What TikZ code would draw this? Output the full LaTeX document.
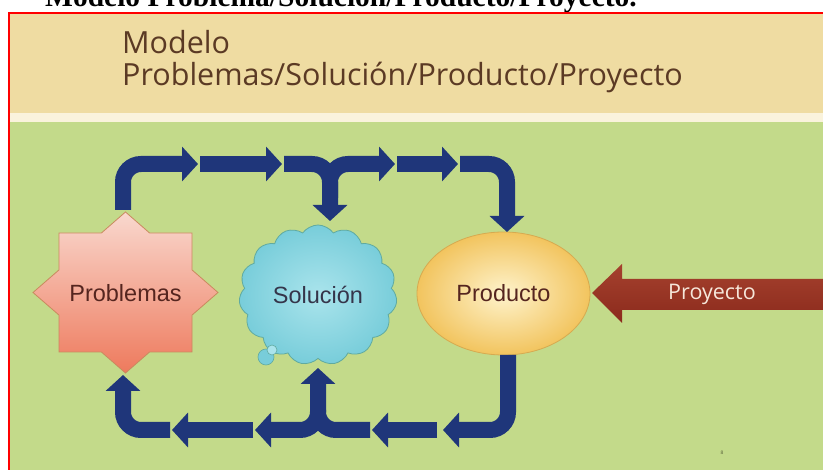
\documentclass[tikz,border=0pt]{standalone}
\usepackage{fontspec}
\usetikzlibrary{arrows.meta,shapes.geometric,shapes.symbols}
\newfontfamily\titlefont{Open Sans}
\newfontfamily\arialfont{Liberation Sans}
\newfontfamily\timesfont{Liberation Serif}
\definecolor{tanbg}{HTML}{EFDCA2}
\definecolor{creambg}{HTML}{FAF3DC}
\definecolor{greenbg}{HTML}{C3DA8A}
\definecolor{navy}{HTML}{1F367A}
\definecolor{titlebrown}{HTML}{5B3A24}
\definecolor{textbrown}{HTML}{55251F}
\definecolor{projred}{HTML}{8B2A1C}
\definecolor{projredlight}{HTML}{A5412E}
\definecolor{startop}{HTML}{F9D8CE}
\definecolor{starbot}{HTML}{EE7A5D}
\definecolor{staredge}{HTML}{C98A5E}
\definecolor{cloudin}{HTML}{AAE4EC}
\definecolor{cloudout}{HTML}{78CDDA}
\definecolor{cloudedge}{HTML}{60AAA0}
\definecolor{cloudtext}{HTML}{35354A}
\definecolor{ellin}{HTML}{FEF3CC}
\definecolor{ellout}{HTML}{F2C45E}
\definecolor{elledge}{HTML}{D6AA50}
\definecolor{proytext}{HTML}{F6E7DA}
\begin{document}
\begin{tikzpicture}[x=1pt,y=-1pt,
  flow/.style={draw=navy, line width=16pt, rounded corners=18pt,
    -{Triangle[length=16pt,width=34pt]}},
  shapetext/.style={font=\arialfont\fontsize{23.5}{26}\selectfont},
  titletext/.style={font=\titlefont\fontsize{30.5}{34}\selectfont, text=titlebrown, anchor=base west, inner sep=0pt}]
\useasboundingbox (0,0) rectangle (823,470);
\clip (0,0) rectangle (823,470);
% page background
\fill[white] (0,0) rectangle (823,470);
\node[font=\timesfont\bfseries\fontsize{29.5}{33}\selectfont, anchor=base west, inner sep=0pt] (cut) at (45,7) {Modelo Problema/Solución/Producto/Proyecto.};
% slide
\fill[tanbg] (9,13) rectangle (830,113);
\fill[creambg] (9,113) rectangle (830,122);
\fill[greenbg] (9,122) rectangle (830,480);
\draw[red, line width=1.6pt] (9,13) rectangle (830,480);
% title
\node[titletext] (t1title) at (122,54) {Modelo};
\node[titletext] (t2title) at (122,86) {Problemas/Solución/Producto/Proyecto};
% Problemas star
\path[top color=startop, bottom color=starbot, draw=staredge, line width=0.8pt]
  (125.5,212) -- (149.6,233) -- (192,233) -- (192,269.9) -- (218,292.5) -- (192,315.1)
  -- (192,352) -- (149.6,352) -- (125.5,373) -- (101.4,352) -- (59,352) -- (59,315.1)
  -- (33,292.5) -- (59,269.9) -- (59,233) -- (101.4,233) -- cycle;
\node[shapetext, text=textbrown] (prob) at (125.5,293) {Problemas};
% Solucion cloud
\node[cloud, cloud puffs=15, cloud puff arc=110, aspect=1.15, minimum width=158pt, minimum height=140pt,
  inner color=cloudin, outer color=cloudout, draw=cloudedge, line width=0.8pt,
  shapetext, text=cloudtext] (sol) at (318,295) {Solución};
\draw[fill=cloudout, draw=cloudedge, line width=0.6pt] (266,357) circle (8pt);
\draw[fill=cloudin, draw=cloudedge, line width=0.6pt] (272,350) circle (5pt);
% Producto ellipse
\node[ellipse, minimum width=173pt, minimum height=123pt,
  inner color=ellin, outer color=ellout, draw=elledge, line width=0.8pt,
  shapetext, text=textbrown] (prod) at (503.5,293.5) {Producto};
% Proyecto arrow
\path[top color=projredlight, bottom color=projred]
  (592,293) -- (622,264) -- (622,279) -- (830,279) -- (830,310) -- (622,310) -- (622,323) -- cycle;
\node[font=\titlefont\fontsize{21.5}{25}\selectfont, text=proytext] (proy) at (712,294) {Proyecto};
% flow coordinates
\coordinate (probTop) at (123,210);
\coordinate (probBot) at (123,375);
\coordinate (solTop) at (330,221);
\coordinate (solBot) at (318,368);
\coordinate (prodTop) at (507,232);
\coordinate (prodBot) at (508,355);
\coordinate (a1) at (198,164);
\coordinate (a2s) at (200,164); \coordinate (a2) at (282,164);
\coordinate (a3s) at (284,164);
\coordinate (a4s) at (330,198); \coordinate (a4) at (395,164);
\coordinate (a5s) at (397,164); \coordinate (a5) at (458,164);
\coordinate (a6s) at (460,164);
\coordinate (b1) at (443,430);
\coordinate (b2s) at (437,430); \coordinate (b2) at (372,430);
\coordinate (b3s) at (370,430);
\coordinate (b4s) at (318,410); \coordinate (b4) at (255,430);
\coordinate (b5s) at (253,430); \coordinate (b5) at (172,430);
\coordinate (b6s) at (170,430);
% top flow
\draw[flow] (probTop) |- (a1);
\draw[flow] (a2s) -- (a2);
\draw[flow] (a3s) -| (solTop);
\draw[flow] (a4s) |- (a4);
\draw[flow] (a5s) -- (a5);
\draw[flow] (a6s) -| (prodTop);
% bottom flow
\draw[flow] (prodBot) |- (b1);
\draw[flow] (b2s) -- (b2);
\draw[flow] (b3s) -| (solBot);
\draw[flow] (b4s) |- (b4);
\draw[flow] (b5s) -- (b5);
\draw[flow] (b6s) -| (probBot);
% slide number
\node[font=\arialfont\fontsize{5}{6}\selectfont, text={rgb,255:red,90;green,100;blue,60}] (num) at (722,453) {8};
\end{tikzpicture}
\end{document}
